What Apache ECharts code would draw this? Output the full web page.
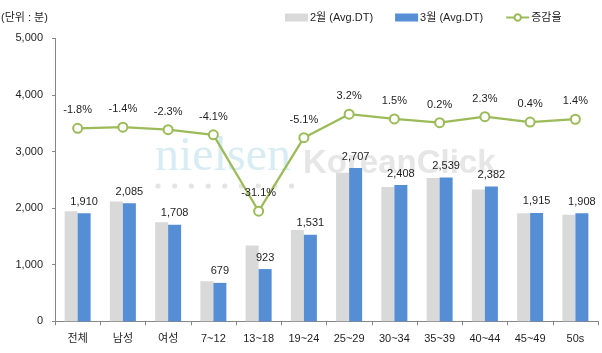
<!DOCTYPE html>
<html>
<head>
<meta charset="utf-8">
<script src="https://cdn.jsdelivr.net/npm/echarts@6/dist/echarts.min.js"></script>
<style>html,body{margin:0;padding:0;background:#fff}#c{width:602px;height:353px}</style>
</head>
<body>
<div id="c"></div>
<script>
var categories = ['전체','남성','여성','7~12','13~18','19~24','25~29','30~34','35~39','40~44','45~49','50s'];
var febValues = [1945, 2115, 1748, 708, 1340, 1613, 2623, 2372, 2534, 2328, 1907, 1882];
var marValues = [1910, 2085, 1708, 679, 923, 1531, 2707, 2408, 2539, 2382, 1915, 1908];
var changeRates = [-1.8, -1.4, -2.3, -4.1, -31.1, -5.1, 3.2, 1.5, 0.2, 2.3, 0.4, 1.4];
var seriesNames = ['2월 (Avg.DT)', '3월 (Avg.DT)', '증감율'];
var yTicks = [0, 1000, 2000, 3000, 4000, 5000];

var FONT = "'Liberation Sans', 'Noto Sans CJK KR', sans-serif";
var TXT = '#1e1e1e';
var AX = '#868686';

var dots = [];
for (var i = 0; i < 9; i++) {
  dots.push({type:'circle', shape:{cx:158 + i*16.7, cy:186, r:2.6}, style:{fill:'#e4e4e4'}, silent:true, z:0});
}

var chart = echarts.init(document.getElementById('c'), null, {renderer:'canvas'});
chart.setOption({
  animation: false,
  textStyle: {fontFamily: FONT},
  graphic: [
    {type:'text', left:1, top:12, style:{text:'(단위 : 분)', font:"11px " + FONT, fill:TXT}, z:5},
    {type:'text', x:155, y:133, style:{text:'nielsen', font:"48px 'Liberation Serif', serif", fill:'#d8ecf4'}, silent:true, z:0},
    {type:'text', x:303, y:147, style:{text:'KoreanClick', font:"bold 33px 'Liberation Sans', sans-serif", fill:'#e6e6e6'}, silent:true, z:0}
  ].concat(dots),
  legend: {
    top: 7,
    left: 280,
    itemWidth: 23,
    itemHeight: 8,
    itemGap: 22,
    textStyle: {fontFamily: FONT, fontSize: 11, color: TXT, padding:[0,0,0,-3]},
    data: [
      {name: seriesNames[0], icon: 'rect'},
      {name: seriesNames[1], icon: 'rect'},
      {name: seriesNames[2]}
    ]
  },
  grid: {left: 55, right: 4, top: 38.3, bottom: 31.7, containLabel: false},
  xAxis: {
    type: 'category',
    data: categories,
    axisLine: {lineStyle: {color: AX, width: 1}},
    axisTick: {show: true, length: 4, lineStyle: {color: AX}},
    axisLabel: {color: TXT, fontSize: 11, margin: 12, fontFamily: FONT, interval: 0}
  },
  yAxis: [
    {
      type: 'value', min: 0, max: 5000, interval: 1000,
      axisLine: {show: true, lineStyle: {color: AX}},
      axisTick: {show: true, length: 3, lineStyle: {color: AX}},
      splitLine: {show: false},
      axisLabel: {color: TXT, fontSize: 11, margin: 12, fontFamily: FONT,
        formatter: function (v) { return v.toLocaleString('en-US'); }}
    },
    {
      type: 'value', min: -70, max: 30, interval: 10, show: false,
      splitLine: {show: false}
    }
  ],
  series: [
    {
      name: seriesNames[0], type: 'bar', data: febValues,
      barWidth: 13, barGap: '0%',
      itemStyle: {color: '#d9d9d9'}, z: 2
    },
    {
      name: seriesNames[1], type: 'bar', data: marValues,
      barWidth: 13, barGap: '0%',
      itemStyle: {color: '#558ed5'}, z: 2,
      label: {show: true, position: 'top', distance: 6, color: TXT, fontSize: 11, fontFamily: FONT,
        formatter: function (p) { return p.value.toLocaleString('en-US'); }}
    },
    {
      name: seriesNames[2], type: 'line', yAxisIndex: 1, data: changeRates,
      symbol: 'circle', symbolSize: 9, showAllSymbol: true,
      lineStyle: {color: '#9bbb59', width: 2.25},
      itemStyle: {color: '#ffffff', borderColor: '#9bbb59', borderWidth: 2},
      label: {show: true, position: 'top', distance: 7, color: TXT, fontSize: 11, fontFamily: FONT,
        formatter: function (p) { return p.value.toFixed(1) + '%'; }},
      z: 4
    }
  ]
});
</script>
</body>
</html>
